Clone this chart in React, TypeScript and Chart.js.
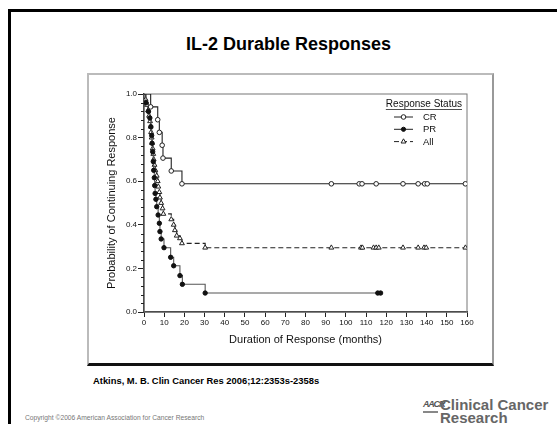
import React, { useEffect, useRef } from "react";
import { Chart, registerables } from "chart.js";
import { drawPoint } from "chart.js/helpers";

Chart.register(...registerables);

// ---- data ----
const seriesNames = ["CR", "PR", "All"];

const crTimes = [0, 3.3, 6.8, 7.6, 9.0, 9.4, 13.5, 18.8, 92.8, 106.6, 108.0, 115.0, 128.3, 135.8, 139.0, 140.3, 159.2];
const crValues = [1, 0.941, 0.882, 0.824, 0.765, 0.706, 0.647, 0.588, 0.588, 0.588, 0.588, 0.588, 0.588, 0.588, 0.588, 0.588, 0.588];

const prTimes = [0, 1.0, 2.2, 2.9, 3.4, 3.8, 4.0, 4.3, 4.6, 4.8, 5.1, 5.3, 5.5, 5.9, 6.3, 7.0, 7.6, 7.9, 8.5, 9.9, 13.2, 14.7, 17.8, 19.0, 30.3, 115.8, 117.2];
const prValues = [1, 0.96, 0.92, 0.89, 0.85, 0.81, 0.774, 0.735, 0.69, 0.65, 0.616, 0.58, 0.544, 0.517, 0.483, 0.445, 0.407, 0.369, 0.335, 0.295, 0.251, 0.212, 0.167, 0.127, 0.087, 0.087, 0.087];

const allTimes = [0, 0.8, 1.5, 2.0, 2.5, 3.0, 3.3, 3.5, 3.8, 4.0, 4.3, 4.6, 4.8, 5.2, 5.6, 6.3, 6.8, 7.1, 7.6, 7.9, 8.5, 9.2, 9.6, 13.5, 14.7, 15.3, 16.2, 17.8, 18.8, 30.3, 92.8, 107.5, 108.2, 113.7, 115.0, 116.3, 128.3, 135.8, 138.7, 139.8, 159.2];
const allValues = [1, 0.975, 0.95, 0.925, 0.9, 0.875, 0.85, 0.825, 0.8, 0.775, 0.75, 0.725, 0.7, 0.675, 0.65, 0.625, 0.6, 0.575, 0.55, 0.525, 0.5, 0.475, 0.45, 0.425, 0.4, 0.375, 0.35, 0.338, 0.315, 0.295, 0.295, 0.295, 0.295, 0.295, 0.295, 0.295, 0.295, 0.295, 0.295, 0.295, 0.295];

const xTickValues = [0, 10, 20, 30, 40, 50, 60, 70, 80, 90, 100, 110, 120, 130, 140, 150, 160];
const yMajorTicks = [0.0, 0.2, 0.4, 0.6, 0.8, 1.0];
const yMinorStep = 0.04;

const titleText = "IL-2 Durable Responses";
const xTitle = "Duration of Response (months)";
const yTitle = "Probability of Continuing Response";
const legendTitle = "Response Status";
const citation = "Atkins, M. B. Clin Cancer Res 2006;12:2353s-2358s";
const copyright = "Copyright ©2006 American Association for Cancer Research";

const FONT = 'Arial, "Liberation Sans", Helvetica, sans-serif';

function toPoints(t: number[], v: number[]) {
  return t.map((x, i) => ({ x, y: v[i] }));
}

const frameAndTicks = {
  id: "frameAndTicks",
  beforeDatasetsDraw(chart: any) {
    const { ctx, chartArea, scales } = chart;
    ctx.save();
    ctx.strokeStyle = "#777";
    ctx.lineWidth = 1;
    ctx.strokeRect(chartArea.left, chartArea.top, chartArea.right - chartArea.left, chartArea.bottom - chartArea.top);
    const ys = scales.y;
    ctx.strokeStyle = "#222";
    ctx.lineWidth = 1;
    for (let k = 0; k <= 25; k++) {
      const v = k * yMinorStep;
      if (k % 5 === 0) continue;
      const py = Math.round(ys.getPixelForValue(v)) + 0.5;
      ctx.beginPath();
      ctx.moveTo(chartArea.left - 3, py);
      ctx.lineTo(chartArea.left, py);
      ctx.stroke();
    }
    ctx.restore();
  },
};

const legendPlugin = {
  id: "kmLegend",
  afterDatasetsDraw(chart: any) {
    const { ctx, chartArea } = chart;
    const r = chartArea.right;
    const t = chartArea.top;
    ctx.save();
    ctx.fillStyle = "#111";
    ctx.font = `10px ${FONT}`;
    ctx.textAlign = "right";
    ctx.textBaseline = "middle";
    ctx.fillText(legendTitle, r - 5, t + 10);
    const w = ctx.measureText(legendTitle).width;
    ctx.strokeStyle = "#222";
    ctx.lineWidth = 0.8;
    ctx.beginPath();
    ctx.moveTo(r - 5 - w, t + 15.5);
    ctx.lineTo(r - 5, t + 15.5);
    ctx.stroke();
    chart.data.datasets.forEach((ds: any, i: number) => {
      const y = t + 23 + i * 12.3;
      ctx.save();
      ctx.strokeStyle = "#222";
      ctx.lineWidth = 1;
      ctx.setLineDash(ds.borderDash || []);
      ctx.beginPath();
      ctx.moveTo(r - 73, y);
      ctx.lineTo(r - 54, y);
      ctx.stroke();
      ctx.setLineDash([]);
      ctx.fillStyle = ds.pointBackgroundColor;
      ctx.strokeStyle = ds.pointBorderColor;
      ctx.lineWidth = 1;
      drawPoint(ctx, { pointStyle: ds.pointStyle, rotation: 0, radius: ds.legendRadius, borderWidth: 1 }, r - 63.5, y);
      ctx.restore();
      ctx.fillStyle = "#111";
      ctx.font = `9.5px ${FONT}`;
      ctx.textAlign = "left";
      ctx.textBaseline = "middle";
      ctx.fillText(ds.label, r - 44, y + 0.5);
    });
    ctx.restore();
  },
};

function KMChart() {
  const ref = useRef<HTMLCanvasElement | null>(null);
  useEffect(() => {
    if (!ref.current) return;
    const hideFirst = (base: number) => (c: any) => (c.dataIndex === 0 ? 0 : base);
    const chart = new Chart(ref.current, {
      type: "line",
      data: {
        datasets: [
          {
            label: seriesNames[0],
            data: toPoints(crTimes, crValues),
            stepped: true,
            borderColor: "#222",
            borderWidth: 1.1,
            pointStyle: "circle",
            pointRadius: hideFirst(2.3),
            pointBackgroundColor: "#fff",
            pointBorderColor: "#222",
            pointBorderWidth: 1,
            legendRadius: 2.3,
            fill: false,
          } as any,
          {
            label: seriesNames[1],
            data: toPoints(prTimes, prValues),
            stepped: true,
            borderColor: "#555",
            borderWidth: 1.1,
            pointStyle: "circle",
            pointRadius: hideFirst(2.2),
            pointBackgroundColor: "#111",
            pointBorderColor: "#111",
            pointBorderWidth: 1,
            legendRadius: 2.1,
            fill: false,
          } as any,
          {
            label: seriesNames[2],
            data: toPoints(allTimes, allValues),
            stepped: true,
            borderColor: "#222",
            borderWidth: 1.1,
            borderDash: [5, 3],
            pointStyle: "triangle",
            pointRadius: hideFirst(2.8),
            pointBackgroundColor: "#fff",
            pointBorderColor: "#222",
            pointBorderWidth: 1,
            legendRadius: 2.8,
            fill: false,
          } as any,
        ],
      },
      options: {
        animation: false,
        responsive: false,
        maintainAspectRatio: false,
        layout: { padding: { top: 19, right: 25, left: 0, bottom: 0 } },
        plugins: { legend: { display: false }, tooltip: { enabled: false }, title: { display: false } },
        scales: {
          x: {
            type: "linear",
            min: 0,
            max: 160,
            afterFit: (s: any) => { s.height = 51; },
            afterBuildTicks: (s: any) => { s.ticks = xTickValues.map((v) => ({ value: v })); },
            ticks: { font: { family: FONT, size: 8 }, color: "#111", padding: 1, maxRotation: 0, autoSkip: false },
            grid: { display: true, drawOnChartArea: false, drawTicks: true, tickLength: 5, color: "#222", tickWidth: 1 },
            border: { display: true, color: "#222", width: 1.5 },
            title: { display: true, text: xTitle, font: { family: FONT, size: 11 }, color: "#111", padding: { top: 0, bottom: 16.4 } },
          },
          y: {
            type: "linear",
            min: 0,
            max: 1,
            afterFit: (s: any) => { s.width = 55; },
            afterBuildTicks: (s: any) => { s.ticks = yMajorTicks.map((v) => ({ value: v })); },
            ticks: { font: { family: FONT, size: 8 }, color: "#111", padding: 1, callback: (v: any) => Number(v).toFixed(1) },
            grid: { display: true, drawOnChartArea: false, drawTicks: true, tickLength: 6, color: "#222", tickWidth: 1 },
            border: { display: true, color: "#222", width: 1.5 },
            title: { display: true, text: yTitle, font: { family: FONT, size: 11 }, color: "#111", padding: { top: 16.4, bottom: 0 } },
          },
        },
      },
      plugins: [frameAndTicks, legendPlugin],
    } as any);
    return () => chart.destroy();
  }, []);
  return <canvas ref={ref} width={403} height={288} style={{ width: 403, height: 288, display: "block" }} />;
}

export default function App() {
  return (
    <div style={{ position: "fixed", left: 0, top: 0, width: 557, height: 424, background: "#fff", overflow: "hidden", fontFamily: FONT }}>
      <div style={{ position: "absolute", left: 8, top: 9, width: 700, height: 600, borderLeft: "3px solid #000", borderTop: "3px solid #000" }} />
      <div style={{ position: "absolute", left: 85, top: 34, width: 407, textAlign: "center", fontSize: 18, fontWeight: "bold", lineHeight: "20px", color: "#000" }}>
        {titleText}
      </div>
      <div style={{ position: "absolute", left: 87, top: 73, width: 407, height: 293, boxSizing: "border-box", borderLeft: "2px solid #bbb", borderTop: "2px solid #bbb", borderRight: "2px solid #999", borderBottom: "3px solid #111", background: "#fff" }}>
        <KMChart />
      </div>
      <div style={{ position: "absolute", left: 93, top: 375, fontSize: 9.4, fontWeight: "bold", lineHeight: "12px", whiteSpace: "nowrap", color: "#000" }}>
        {citation}
      </div>
      <div style={{ position: "absolute", left: 25, top: 414, fontSize: 6.7, lineHeight: "8px", whiteSpace: "nowrap", color: "#777" }}>
        {copyright}
      </div>
      <div style={{ position: "absolute", left: 423, top: 399, width: 15, fontSize: 9, fontWeight: "bold", fontStyle: "italic", lineHeight: "11px", color: "#555", letterSpacing: -1.2, borderBottom: "2px solid #888", paddingBottom: 1 }}>
        AACR
      </div>
      <div style={{ position: "absolute", left: 440, top: 398, fontSize: 15, fontWeight: "bold", lineHeight: "13px", whiteSpace: "nowrap", color: "#666" }}>
        Clinical Cancer
        <br />
        Research
      </div>
    </div>
  );
}
